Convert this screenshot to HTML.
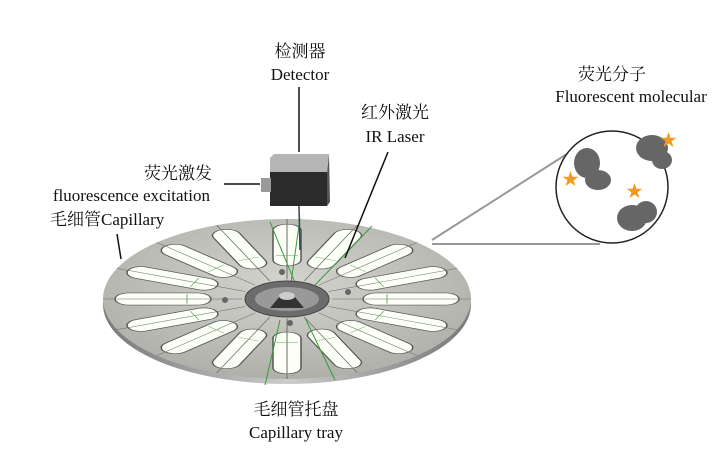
<!DOCTYPE html>
<html><head><meta charset="utf-8"><style>
html,body{margin:0;padding:0;background:#fff;}
svg{display:block}
text{font-family:"Liberation Serif","Noto Serif CJK SC",serif;font-size:17px;fill:#111}
</style></head><body>
<svg width="726" height="470" viewBox="0 0 726 470" xmlns="http://www.w3.org/2000/svg">
<defs>
<radialGradient id="dg" cx="0.5" cy="0.4" r="0.7">
<stop offset="0" stop-color="#d4d4ce"/><stop offset="1" stop-color="#aaaaa4"/>
</radialGradient>
<linearGradient id="eg" x1="0" x2="1"><stop offset="0" stop-color="#777"/><stop offset="0.5" stop-color="#ccc"/><stop offset="1" stop-color="#777"/></linearGradient>
</defs>
<text x="300" y="57" text-anchor="middle">检测器</text>
<text x="300" y="80" text-anchor="middle">Detector</text>
<text x="395" y="118" text-anchor="middle">红外激光</text>
<text x="395" y="142" text-anchor="middle">IR Laser</text>
<text x="212" y="179" text-anchor="end">荧光激发</text>
<text x="210" y="201" text-anchor="end">fluorescence excitation</text>
<text x="50" y="225">毛细管Capillary</text>
<text x="612" y="80" text-anchor="middle">荧光分子</text>
<text x="631" y="102" text-anchor="middle">Fluorescent molecular</text>
<text x="296" y="415" text-anchor="middle">毛细管托盘</text>
<text x="296" y="438" text-anchor="middle">Capillary tray</text>
<ellipse cx="287" cy="304" rx="184" ry="80" fill="url(#eg)"/>
<ellipse cx="287" cy="299" rx="184" ry="80" fill="url(#dg)"/>
<g transform="translate(287,299) scale(1,0.435)">
<g id="s"><rect x="-14" y="-172" width="28" height="96" rx="14" fill="#fbfff6" stroke="#555" stroke-width="1.5"/><line x1="0" y1="-184" x2="0" y2="-45" stroke="#6f6f68" stroke-width="1"/><line x1="-11" y1="-100" x2="11" y2="-100" stroke="#6a6" stroke-width="1"/></g>
<use href="#s" transform="rotate(22.5)"/><use href="#s" transform="rotate(45)"/><use href="#s" transform="rotate(67.5)"/>
<use href="#s" transform="rotate(90)"/><use href="#s" transform="rotate(112.5)"/><use href="#s" transform="rotate(135)"/>
<use href="#s" transform="rotate(157.5)"/><use href="#s" transform="rotate(180)"/><use href="#s" transform="rotate(202.5)"/>
<use href="#s" transform="rotate(225)"/><use href="#s" transform="rotate(247.5)"/><use href="#s" transform="rotate(270)"/>
<use href="#s" transform="rotate(292.5)"/><use href="#s" transform="rotate(315)"/><use href="#s" transform="rotate(337.5)"/>
</g>
<g stroke="#3a9a3a" stroke-width="1">
<line x1="270" y1="222" x2="298" y2="290"/><line x1="300" y1="218" x2="290" y2="290"/>
<line x1="372" y1="226" x2="315" y2="285"/><line x1="280" y1="320" x2="265" y2="385"/>
<line x1="305" y1="318" x2="335" y2="380"/>
</g>
<ellipse cx="287" cy="299" rx="42" ry="18" fill="#6c6c6c" stroke="#444"/>
<ellipse cx="287" cy="299" rx="32" ry="12" fill="#999"/>
<path d="M270 308 L280 296 L294 296 L304 308 Z" fill="#333"/>
<ellipse cx="287" cy="296" rx="8" ry="4" fill="#ccc"/>
<circle cx="225" cy="300" r="3" fill="#666"/><circle cx="348" cy="292" r="3" fill="#666"/>
<circle cx="282" cy="272" r="3" fill="#666"/><circle cx="290" cy="323" r="3" fill="#666"/>
<line x1="299" y1="206" x2="300" y2="250" stroke="#345" stroke-width="1.5"/>
<polygon points="270,158 274,154 329,154 327,173 270,173" fill="#b5b5b5"/>
<rect x="270" y="172" width="57" height="34" fill="#2b2b2b"/>
<polygon points="327,173 329,154 330,202 327,206" fill="#555"/>
<rect x="261" y="178" width="10" height="14" fill="#999"/>
<g stroke="#111" stroke-width="1.5" fill="none">
<line x1="299" y1="87" x2="299" y2="152"/>
<line x1="388" y1="152" x2="345" y2="258"/>
<line x1="224" y1="184" x2="260" y2="184"/>
<line x1="117" y1="234" x2="121" y2="259"/>
</g>
<g stroke="#999" stroke-width="2"><line x1="432" y1="240" x2="570" y2="152"/><line x1="432" y1="244" x2="600" y2="244"/></g>
<circle cx="612" cy="187" r="56" fill="#fff" stroke="#222" stroke-width="1.5"/>
<g fill="#666">
<ellipse cx="587" cy="163" rx="13" ry="15"/><ellipse cx="598" cy="180" rx="13" ry="10"/>
<ellipse cx="652" cy="148" rx="16" ry="13"/><ellipse cx="662" cy="160" rx="10" ry="9"/>
<ellipse cx="632" cy="218" rx="15" ry="13"/><ellipse cx="646" cy="212" rx="11" ry="11"/>
</g>
<g font-size="14">
<text x="562" y="185" style="fill:#f39a1e">★</text>
<text x="660" y="146" style="fill:#f39a1e">★</text>
<text x="626" y="197" style="fill:#f39a1e">★</text>
</g>
</svg>
</body></html>
